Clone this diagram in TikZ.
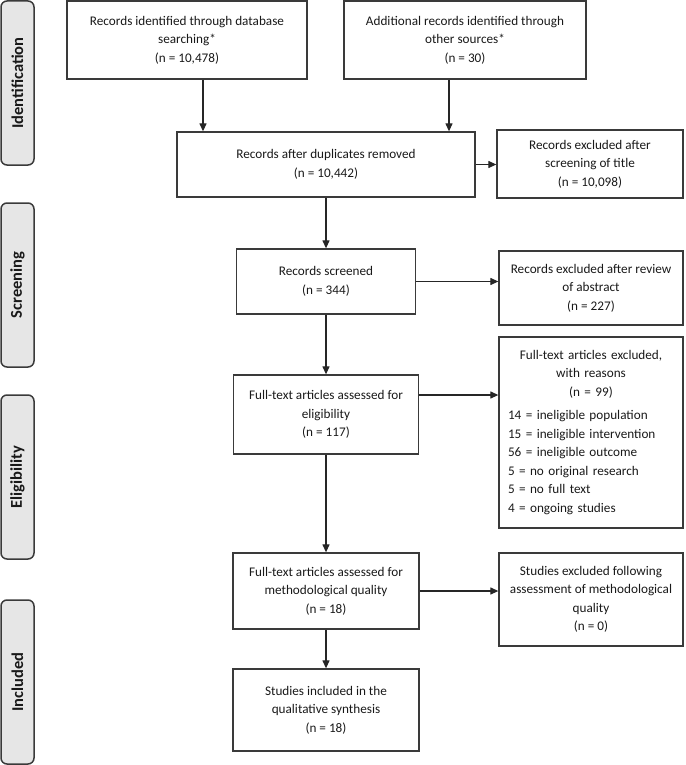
\documentclass[tikz,border=0pt]{standalone}
\usepackage{fontspec}
\setmainfont{Carlito}
\usetikzlibrary{arrows.meta}
\definecolor{boxline}{HTML}{3A3A3A}
\definecolor{tabfill}{HTML}{E6E6E6}
\begin{document}
\begin{tikzpicture}[x=1pt,y=-1pt,
  box/.style={draw=boxline,line width=1.3pt,inner sep=0pt,align=center,
    font=\fontsize{13.2}{18.5}\selectfont,text=black!90},
  tab/.style={draw=boxline,fill=tabfill,line width=1.5pt,rounded corners=6pt,
    rotate=90,minimum width=164pt,minimum height=33pt,inner sep=0pt,
    font=\bfseries\fontsize{16.5}{18}\selectfont,text=black!90},
  arr/.style={draw=black!85,line width=1.2pt,-{Triangle[length=8pt,width=7pt]}}]
  \useasboundingbox (0,0) rectangle (685,765);
  \node[tab] (idtab) at (17.5,83) {Identification};
  \node[tab] (scrtab) at (17.5,285) {Screening};
  \node[tab] (eltab) at (17.5,477) {Eligibility};
  \node[tab] (inctab) at (17.5,682) {Included};

  \node[box,minimum width=240pt,minimum height=78pt] (dbrec) at (187,40)
    {Records identified through database\\searching*\\(n = 10,478)};
  \node[box,minimum width=242pt,minimum height=78pt] (othrec) at (465,40)
    {Additional records identified through\\other sources*\\(n = 30)};
  \node[box,minimum width=298pt,minimum height=65pt] (dupl) at (326,164.5)
    {Records after duplicates removed\\(n = 10,442)};
  \node[box,minimum width=186pt,minimum height=68pt] (extitle) at (590,164)
    {Records excluded after\\screening of title\\(n = 10,098)};
  \node[box,minimum width=179pt,minimum height=65pt] (screened) at (326,281.5)
    {Records screened\\(n = 344)};
  \node[box,minimum width=184pt,minimum height=74pt] (exabs) at (591,288)
    {Records excluded after review\\of abstract\\(n = 227)};
  \node[box,minimum width=185pt,minimum height=79pt] (fulltext) at (326,414.5)
    {Full-text articles assessed for\\eligibility\\(n = 117)};
  \node[box,minimum width=184pt,minimum height=191pt,text width=166pt,align=left] (exfull) at (591,432.5)
    {\centering Full-text articles excluded,\\with reasons\\(n = 99)\par\vspace{5pt}\raggedright
     14 = ineligible population\\15 = ineligible intervention\\56 = ineligible outcome\\
     5 = no original research\\5 = no full text\\4 = ongoing studies\par};
  \node[box,minimum width=186pt,minimum height=76pt] (methq) at (326,591)
    {Full-text articles assessed for\\methodological quality\\(n = 18)};
  \node[box,minimum width=184pt,minimum height=93pt] (exmeth) at (591,599.5)
    {Studies excluded following\\assessment of methodological\\quality\\(n = 0)};
  \node[box,minimum width=186pt,minimum height=82pt] (incl) at (326,710)
    {Studies included in the\\qualitative synthesis\\(n = 18)};

  \draw[arr] ([xshift=16pt]dbrec.south) -- ([xshift=16pt]dbrec.south |- dupl.north);
  \draw[arr] ([xshift=-16pt]othrec.south) -- ([xshift=-16pt]othrec.south |- dupl.north);
  \draw[arr] (dupl.east) -- (dupl.east -| extitle.west);
  \draw[arr] (dupl.south) -- (dupl.south |- screened.north);
  \draw[arr] (screened.east) -- (screened.east -| exabs.west);
  \draw[arr] (screened.south) -- (screened.south |- fulltext.north);
  \draw[arr] ([yshift=19.5pt]fulltext.east) -- ([yshift=19.5pt]fulltext.east -| exfull.west);
  \draw[arr] (fulltext.south) -- (fulltext.south |- methq.north);
  \draw[arr] (methq.east) -- (methq.east -| exmeth.west);
  \draw[arr] (methq.south) -- (methq.south |- incl.north);
\end{tikzpicture}
\end{document}
